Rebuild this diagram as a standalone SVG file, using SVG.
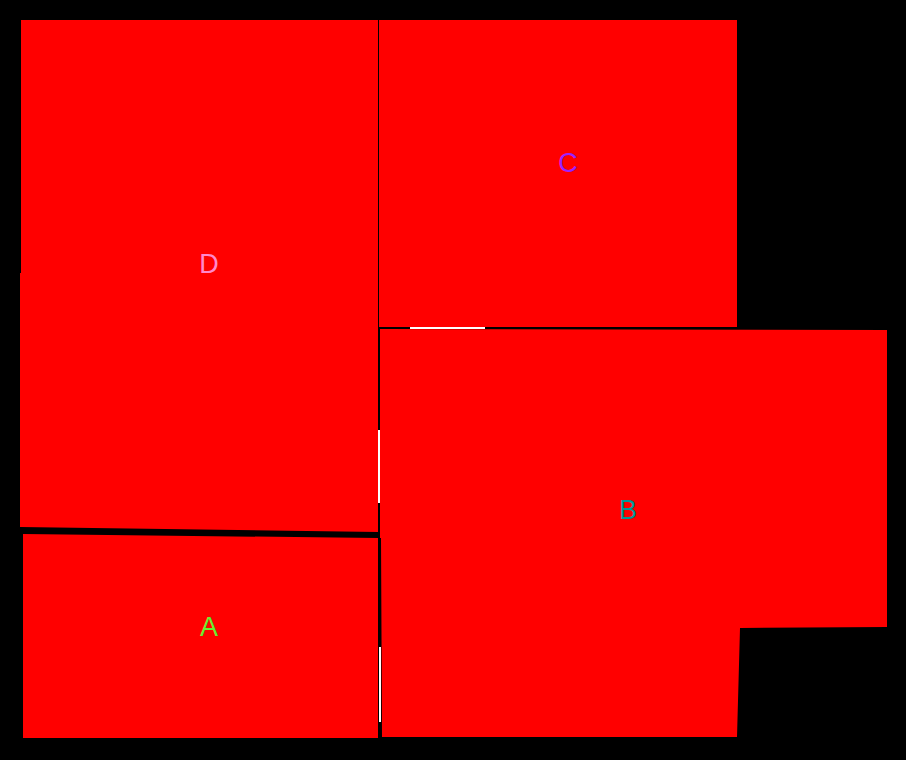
<svg xmlns="http://www.w3.org/2000/svg" width="906" height="760" viewBox="0 0 906 760">
<style>
.room{fill:#ff0000;stroke:none}
.lbl{font-family:"Liberation Sans",Arial,sans-serif;font-size:27px;text-anchor:middle;dominant-baseline:central}
.door{stroke:#ffffff;stroke-width:2;fill:none}
</style>
<rect x="0" y="0" width="906" height="760" fill="#000000"/>
<g id="D">
<polygon class="room" points="21,20 378,20 378,532 20,527 20,273 21,273"/>
<text class="lbl" x="209" y="264" fill="#ff88cc">D</text>
</g>
<g id="C">
<polygon class="room" points="379,20 737,20 737,327 379,327"/>
<text class="lbl" x="568" y="163" fill="#9922ff">C</text>
</g>
<g id="B">
<polygon class="room" points="380,329 887,330 887,627 740,628 737,737 382,737 381,538 380,538"/>
<text class="lbl" x="628" y="510" fill="#009999">B</text>
</g>
<g id="A">
<polygon class="room" points="23,534 378,538 378,738 23,738"/>
<text class="lbl" x="209" y="627" fill="#66ee33">A</text>
</g>
<g id="connectors">
<line class="door" x1="410" y1="328" x2="485" y2="328"/>
<line class="door" x1="379" y1="430" x2="379" y2="503"/>
<line class="door" x1="380" y1="647" x2="380" y2="722"/>
</g>
</svg>
